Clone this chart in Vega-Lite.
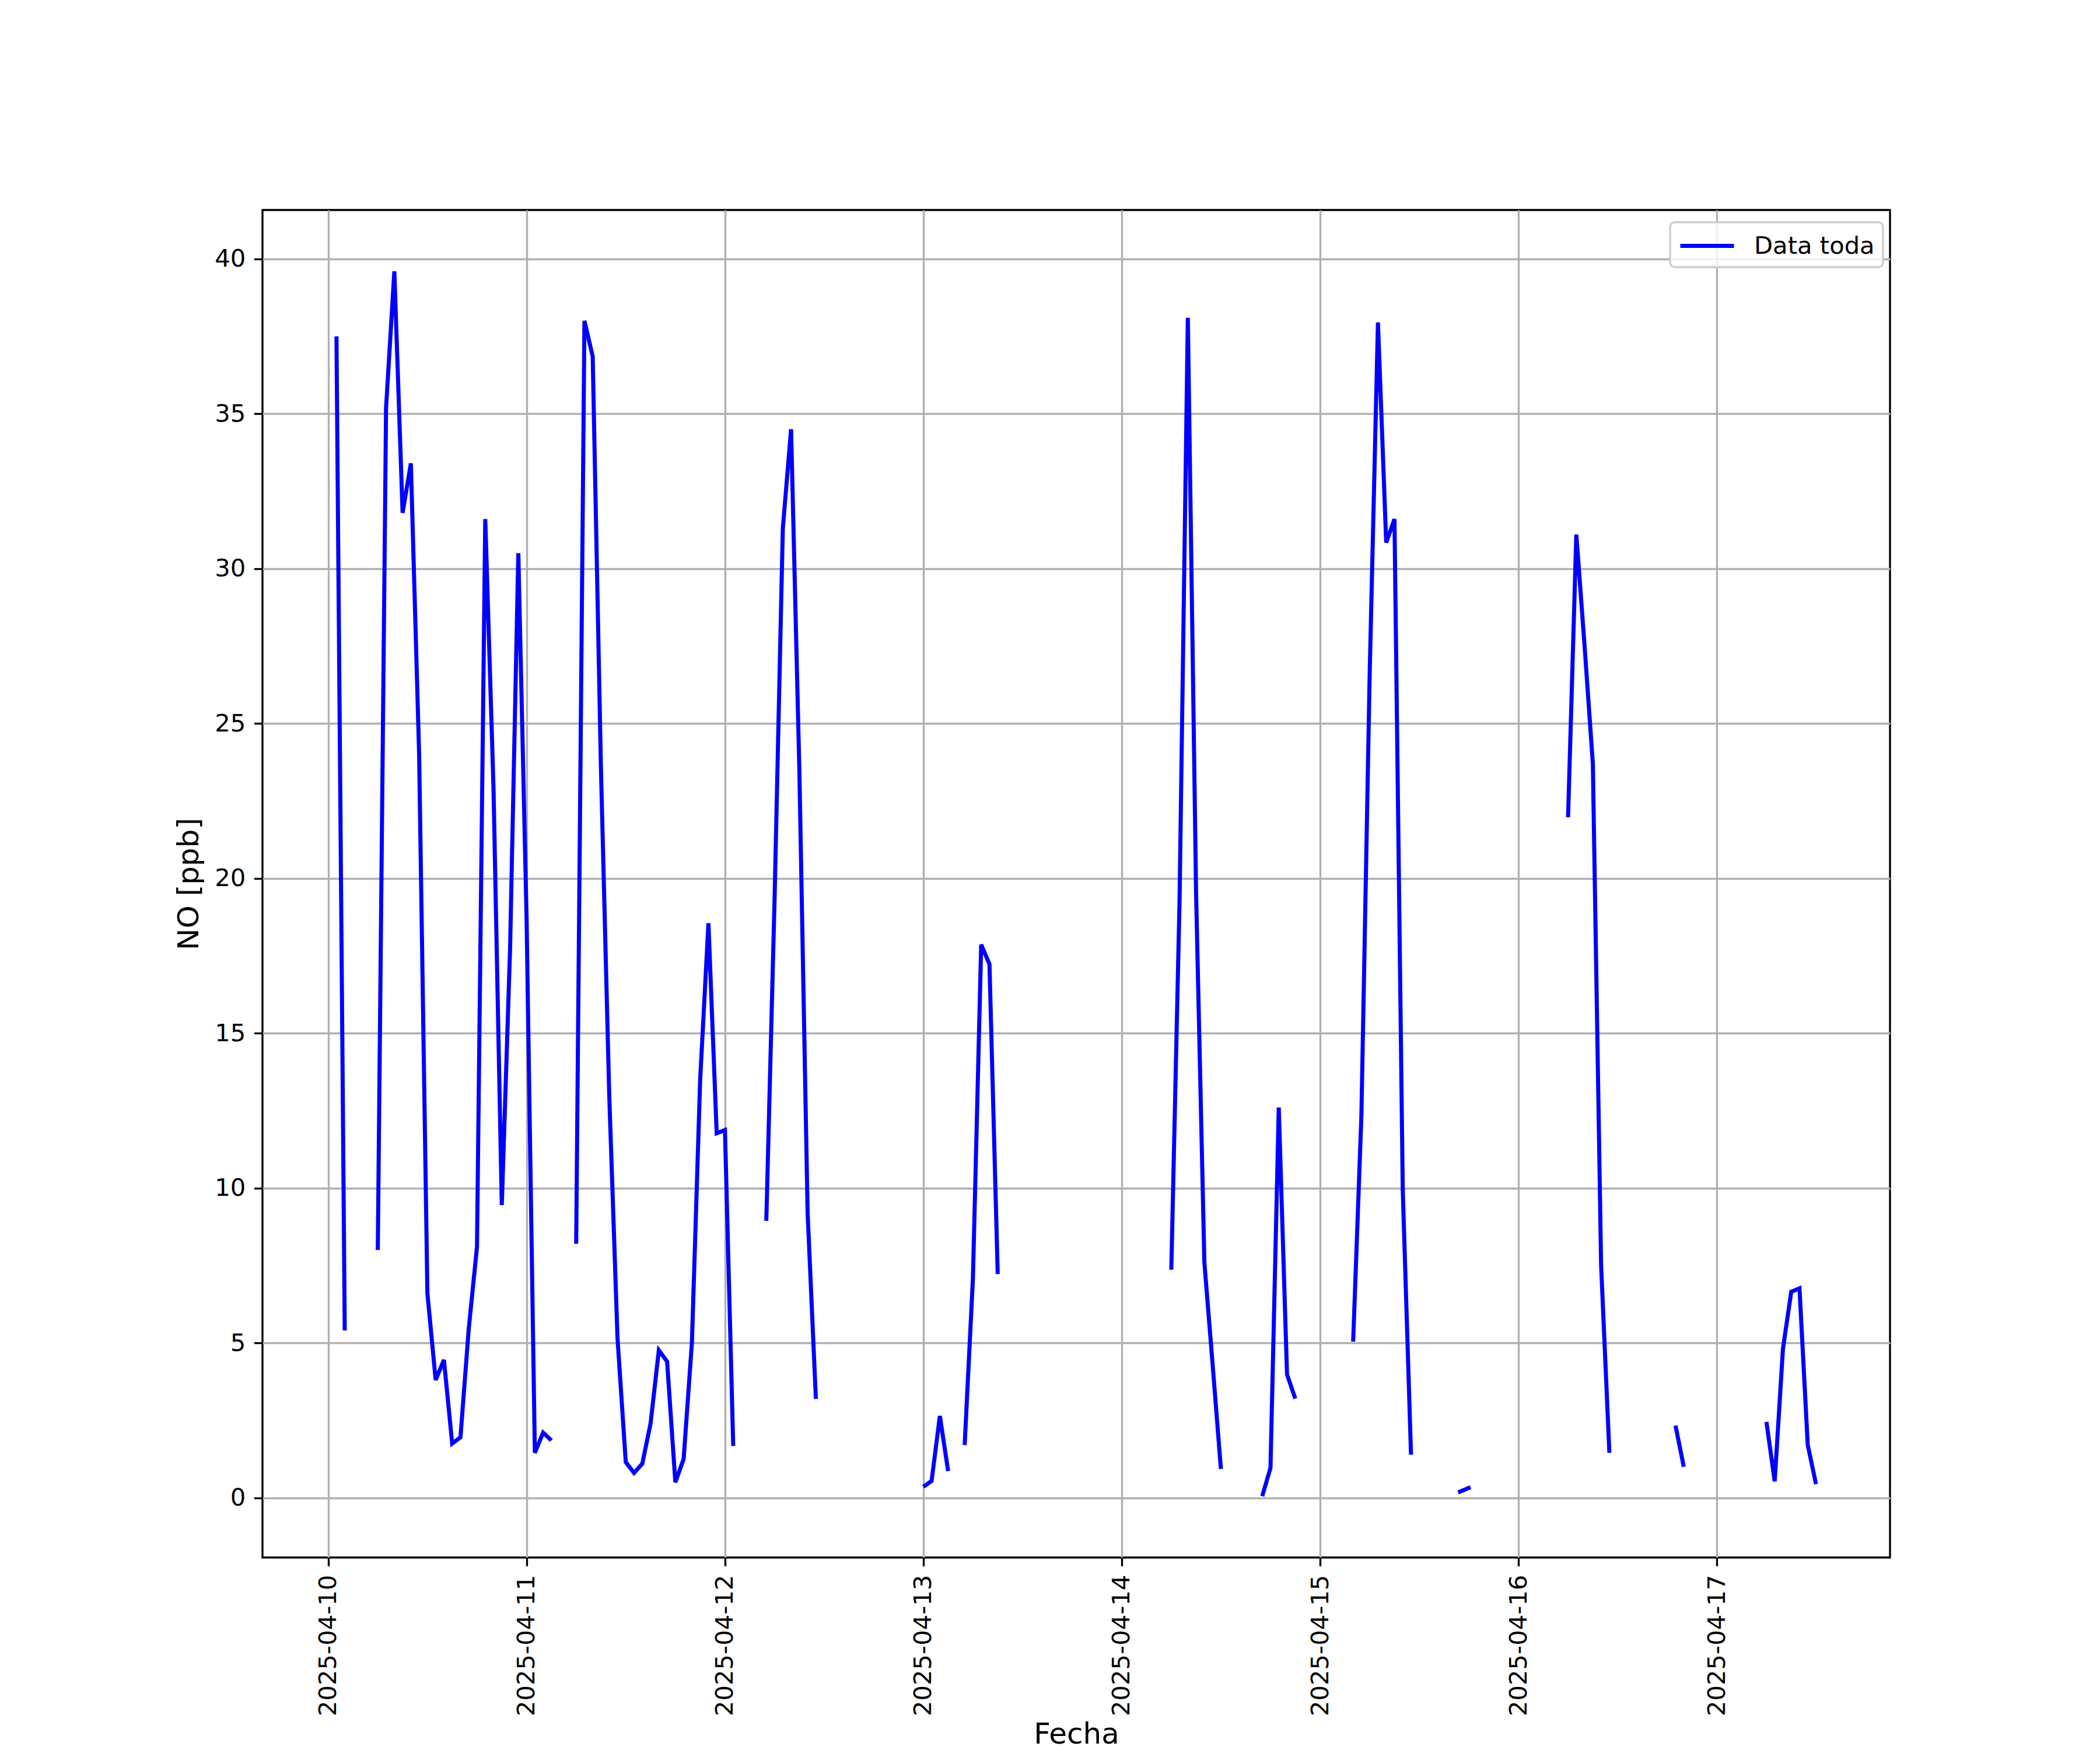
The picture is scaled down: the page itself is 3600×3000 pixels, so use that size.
{
  "$schema": "https://vega.github.io/schema/vega-lite/v6.json",
  "autosize": {"type": "none"},
  "width": 2790,
  "height": 2310,
  "padding": {"left": 450, "top": 360, "right": 360, "bottom": 330},
  "background": "white",
  "config": {
    "view": {"stroke": "black", "strokeWidth": 3.33},
    "font": "DejaVu Sans",
    "legend": {"strokeWidth": 3.33},
    "axis": {
      "domain": false,
      "grid": true,
      "gridColor": "#b0b0b0",
      "gridWidth": 3.33,
      "tickColor": "black",
      "tickWidth": 3.33,
      "tickSize": 14.6,
      "labelPadding": 14.6,
      "labelLimit": 0,
      "labelFont": "DejaVu Sans",
      "labelFontSize": 41.7,
      "labelColor": "black",
      "titleFont": "DejaVu Sans",
      "titleFontSize": 50,
      "titleFontWeight": "normal",
      "titleColor": "black"
    }
  },
  "data": {
    "values": [
      {"t": "2025-04-10T01:00:00", "no": 37.5},
      {"t": "2025-04-10T02:00:00", "no": 5.4},
      {"t": "2025-04-10T03:00:00", "no": null},
      {"t": "2025-04-10T06:00:00", "no": 8.0},
      {"t": "2025-04-10T07:00:00", "no": 35.2},
      {"t": "2025-04-10T08:00:00", "no": 39.6},
      {"t": "2025-04-10T09:00:00", "no": 31.8},
      {"t": "2025-04-10T10:00:00", "no": 33.4},
      {"t": "2025-04-10T11:00:00", "no": 24.0},
      {"t": "2025-04-10T12:00:00", "no": 6.6},
      {"t": "2025-04-10T13:00:00", "no": 3.8},
      {"t": "2025-04-10T14:00:00", "no": 4.45},
      {"t": "2025-04-10T15:00:00", "no": 1.75},
      {"t": "2025-04-10T16:00:00", "no": 1.95},
      {"t": "2025-04-10T17:00:00", "no": 5.45},
      {"t": "2025-04-10T18:00:00", "no": 8.1},
      {"t": "2025-04-10T19:00:00", "no": 31.6},
      {"t": "2025-04-10T20:00:00", "no": 22.9},
      {"t": "2025-04-10T21:00:00", "no": 9.45},
      {"t": "2025-04-10T22:00:00", "no": 17.7},
      {"t": "2025-04-10T23:00:00", "no": 30.5},
      {"t": "2025-04-11T00:00:00", "no": 18.7},
      {"t": "2025-04-11T01:00:00", "no": 1.45},
      {"t": "2025-04-11T02:00:00", "no": 2.1},
      {"t": "2025-04-11T03:00:00", "no": 1.85},
      {"t": "2025-04-11T04:00:00", "no": null},
      {"t": "2025-04-11T06:00:00", "no": 8.2},
      {"t": "2025-04-11T07:00:00", "no": 38.0},
      {"t": "2025-04-11T08:00:00", "no": 36.85},
      {"t": "2025-04-11T09:00:00", "no": 23.5},
      {"t": "2025-04-11T10:00:00", "no": 13.0},
      {"t": "2025-04-11T11:00:00", "no": 5.15},
      {"t": "2025-04-11T12:00:00", "no": 1.15},
      {"t": "2025-04-11T13:00:00", "no": 0.8},
      {"t": "2025-04-11T14:00:00", "no": 1.1},
      {"t": "2025-04-11T15:00:00", "no": 2.4},
      {"t": "2025-04-11T16:00:00", "no": 4.76},
      {"t": "2025-04-11T17:00:00", "no": 4.4},
      {"t": "2025-04-11T18:00:00", "no": 0.5},
      {"t": "2025-04-11T19:00:00", "no": 1.25},
      {"t": "2025-04-11T20:00:00", "no": 5.0},
      {"t": "2025-04-11T21:00:00", "no": 13.5},
      {"t": "2025-04-11T22:00:00", "no": 18.55},
      {"t": "2025-04-11T23:00:00", "no": 11.77},
      {"t": "2025-04-12T00:00:00", "no": 11.87},
      {"t": "2025-04-12T01:00:00", "no": 1.67},
      {"t": "2025-04-12T02:00:00", "no": null},
      {"t": "2025-04-12T05:00:00", "no": 8.94},
      {"t": "2025-04-12T06:00:00", "no": 19.3},
      {"t": "2025-04-12T07:00:00", "no": 31.3},
      {"t": "2025-04-12T08:00:00", "no": 34.5},
      {"t": "2025-04-12T09:00:00", "no": 23.5},
      {"t": "2025-04-12T10:00:00", "no": 9.2},
      {"t": "2025-04-12T11:00:00", "no": 3.19},
      {"t": "2025-04-12T12:00:00", "no": null},
      {"t": "2025-04-13T00:00:00", "no": 0.35},
      {"t": "2025-04-13T01:00:00", "no": 0.54},
      {"t": "2025-04-13T02:00:00", "no": 2.64},
      {"t": "2025-04-13T03:00:00", "no": 0.86},
      {"t": "2025-04-13T04:00:00", "no": null},
      {"t": "2025-04-13T05:00:00", "no": 1.7},
      {"t": "2025-04-13T06:00:00", "no": 7.09},
      {"t": "2025-04-13T07:00:00", "no": 17.86},
      {"t": "2025-04-13T08:00:00", "no": 17.23},
      {"t": "2025-04-13T09:00:00", "no": 7.22},
      {"t": "2025-04-13T10:00:00", "no": null},
      {"t": "2025-04-14T06:00:00", "no": 7.36},
      {"t": "2025-04-14T07:00:00", "no": 19.3},
      {"t": "2025-04-14T08:00:00", "no": 38.1},
      {"t": "2025-04-14T09:00:00", "no": 19.5},
      {"t": "2025-04-14T10:00:00", "no": 7.6},
      {"t": "2025-04-14T11:00:00", "no": 4.3},
      {"t": "2025-04-14T12:00:00", "no": 0.93},
      {"t": "2025-04-14T13:00:00", "no": null},
      {"t": "2025-04-14T17:00:00", "no": 0.05},
      {"t": "2025-04-14T18:00:00", "no": 0.96},
      {"t": "2025-04-14T19:00:00", "no": 12.6},
      {"t": "2025-04-14T20:00:00", "no": 3.98},
      {"t": "2025-04-14T21:00:00", "no": 3.2},
      {"t": "2025-04-14T22:00:00", "no": null},
      {"t": "2025-04-15T04:00:00", "no": 5.04},
      {"t": "2025-04-15T05:00:00", "no": 12.35},
      {"t": "2025-04-15T06:00:00", "no": 26.6},
      {"t": "2025-04-15T07:00:00", "no": 37.95},
      {"t": "2025-04-15T08:00:00", "no": 30.84},
      {"t": "2025-04-15T09:00:00", "no": 31.6},
      {"t": "2025-04-15T10:00:00", "no": 9.96},
      {"t": "2025-04-15T11:00:00", "no": 1.39},
      {"t": "2025-04-15T12:00:00", "no": null},
      {"t": "2025-04-15T16:42:00", "no": 0.17},
      {"t": "2025-04-15T18:12:00", "no": 0.34},
      {"t": "2025-04-15T19:00:00", "no": null},
      {"t": "2025-04-16T06:00:00", "no": 21.97},
      {"t": "2025-04-16T07:00:00", "no": 31.1},
      {"t": "2025-04-16T08:00:00", "no": 27.5},
      {"t": "2025-04-16T09:00:00", "no": 23.7},
      {"t": "2025-04-16T10:00:00", "no": 7.5},
      {"t": "2025-04-16T11:00:00", "no": 1.45},
      {"t": "2025-04-16T12:00:00", "no": null},
      {"t": "2025-04-16T19:00:00", "no": 2.33},
      {"t": "2025-04-16T20:00:00", "no": 1.0},
      {"t": "2025-04-16T21:00:00", "no": null},
      {"t": "2025-04-17T06:00:00", "no": 2.45},
      {"t": "2025-04-17T07:00:00", "no": 0.53},
      {"t": "2025-04-17T08:00:00", "no": 4.81},
      {"t": "2025-04-17T09:00:00", "no": 6.65},
      {"t": "2025-04-17T10:00:00", "no": 6.76},
      {"t": "2025-04-17T11:00:00", "no": 1.7},
      {"t": "2025-04-17T12:00:00", "no": 0.44}
    ]
  },
  "mark": {"type": "line", "strokeWidth": 7, "invalid": "break-paths-show-domains", "clip": true},
  "encoding": {
    "x": {
      "field": "t",
      "type": "temporal",
      "title": "Fecha",
      "scale": {
        "domain": [
          {"year": 2025, "month": 4, "date": 9, "hours": 16, "minutes": 3},
          {"year": 2025, "month": 4, "date": 17, "hours": 20, "minutes": 57}
        ],
        "nice": false
      },
      "axis": {
        "values": [
          {"year": 2025, "month": 4, "date": 10},
          {"year": 2025, "month": 4, "date": 11},
          {"year": 2025, "month": 4, "date": 12},
          {"year": 2025, "month": 4, "date": 13},
          {"year": 2025, "month": 4, "date": 14},
          {"year": 2025, "month": 4, "date": 15},
          {"year": 2025, "month": 4, "date": 16},
          {"year": 2025, "month": 4, "date": 17}
        ],
        "format": "%Y-%m-%d",
        "labelAngle": 270,
        "labelLimit": 0,
        "titleY": 318,
        "titleBaseline": "alphabetic"
      }
    },
    "y": {
      "field": "no",
      "type": "quantitative",
      "title": "NO [ppb]",
      "scale": {"domain": [-1.93, 41.58], "nice": false, "zero": false},
      "axis": {
        "values": [0, 5, 10, 15, 20, 25, 30, 35, 40],
        "titlePadding": 18
      }
    },
    "color": {
      "datum": "Data toda",
      "scale": {"range": ["#0000ff"]},
      "legend": {
        "title": null,
        "orient": "none",
        "legendX": 2413,
        "legendY": 21,
        "symbolType": "M-1,0H3",
        "symbolSize": 2116,
        "symbolStrokeWidth": 7,
        "symbolFillColor": "transparent",
        "labelFont": "DejaVu Sans",
        "labelFontSize": 41.7,
        "labelColor": "black",
        "labelLimit": 0,
        "labelOffset": 77,
        "padding": 14,
        "strokeColor": "#cccccc",
        "cornerRadius": 8,
        "fillColor": "rgba(255,255,255,0.8)"
      }
    }
  }
}
